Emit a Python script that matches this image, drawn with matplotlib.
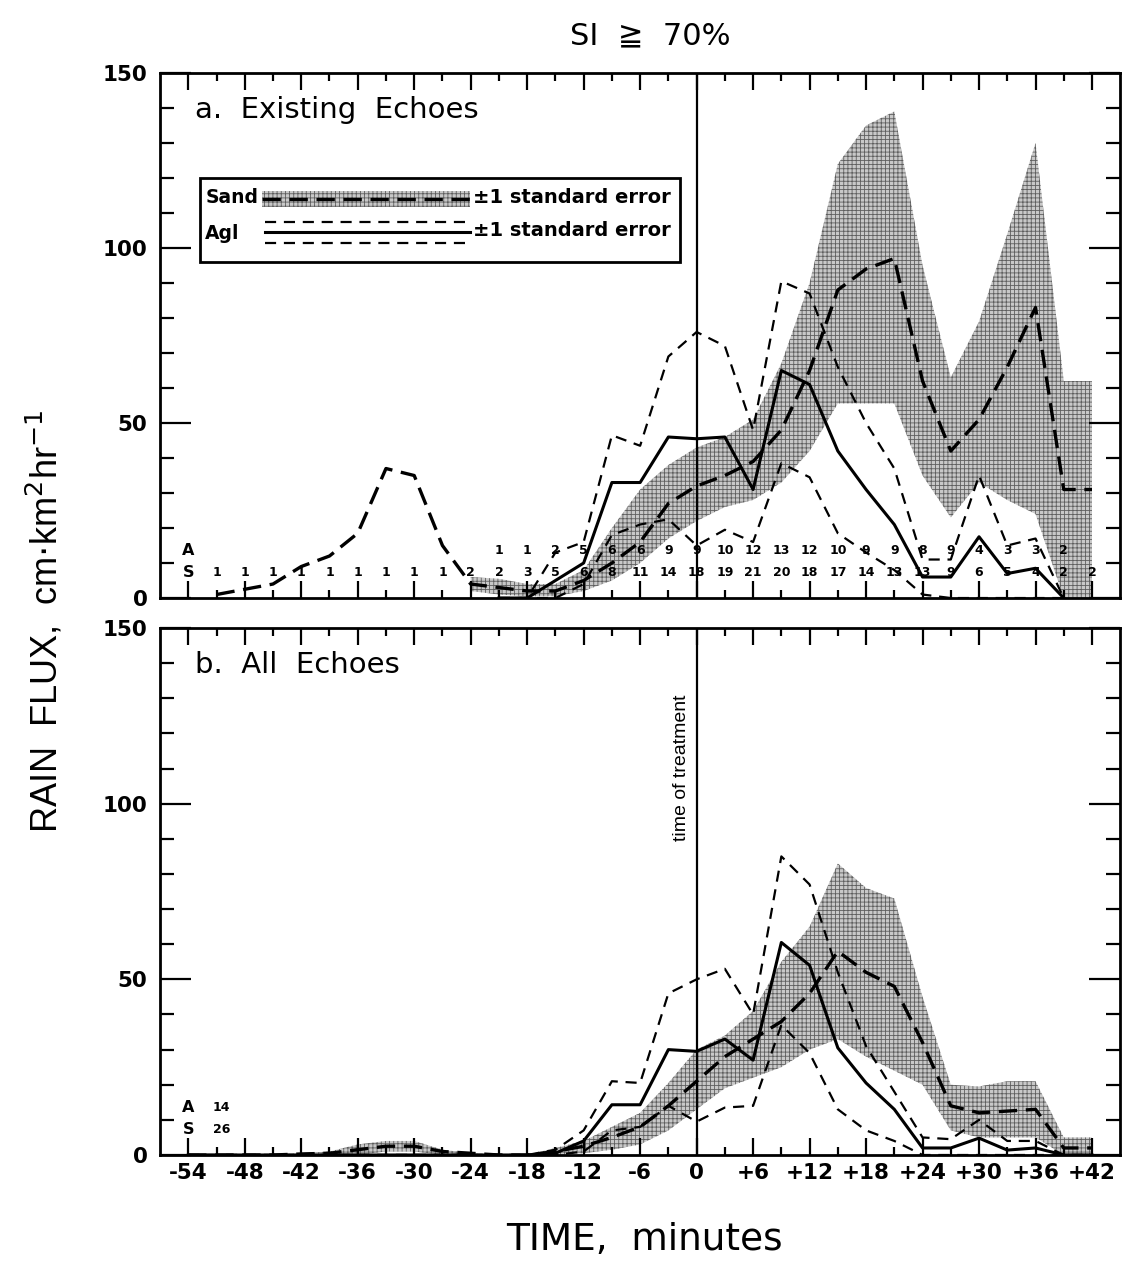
import matplotlib
matplotlib.use('Agg')
import matplotlib.pyplot as plt
import matplotlib.transforms as mtransforms
from matplotlib.patches import Rectangle
from matplotlib.lines import Line2D
import numpy as np

plt.rcParams['font.family'] = ['DejaVu Sans']
plt.rcParams['hatch.linewidth'] = 0.6

# time grid, minutes relative to treatment
t_all = np.arange(-54, 43, 3)

# ---- panel a: existing echoes ----
sand_a_t = t_all[1:]          # -51 .. +42
sand_a_mean = [1, 2.5, 4, 9, 12, 18.5, 37, 35, 15, 4, 3, 2,
               2, 5, 10, 16, 27, 32, 35, 39, 48, 65, 88, 94, 97, 62, 42, 51, 66, 83, 31, 31]
band_a_t = t_all[10:]         # -24 .. +42
sand_a_hi = [6, 5.5, 4, 4, 8, 20, 31, 38, 43, 46, 51, 67, 90, 124, 135, 139, 95, 63, 79, 104, 130, 62, 62]
sand_a_lo = [2, 1, 0.5, 0.5, 2, 5, 10, 17, 22, 26, 28, 33, 42, 55.6, 55.6, 55.6, 35, 23, 33, 28, 24, 0, 0]

agl_a_t = t_all[11:32]        # -21 .. +39
agl_a_mean = [0, 0, 5, 10, 33, 33, 46, 45.5, 46, 31, 65, 61, 42, 31, 21, 6, 6, 17.5, 7, 8.5, 0]
agl_a_hi = [0, 0, 13, 16, 46.5, 43.5, 69, 76, 72, 48, 90.5, 87, 66, 50, 37, 11, 11, 35, 15, 17, 0]
agl_a_lo = [0, 0, 0, 4, 18, 21, 22.5, 15, 19.5, 16, 38.5, 34.5, 18.5, 13, 8, 1, 0, 0, 0, 0, 0]

count_a_t = t_all[11:32]
count_a = [1, 1, 2, 5, 6, 6, 9, 9, 10, 12, 13, 12, 10, 9, 9, 8, 9, 4, 3, 3, 2]
count_s_t = t_all[1:]
count_s = [1, 1, 1, 1, 1, 1, 1, 1, 1, 2, 2, 3, 5, 6, 8, 11, 14, 18, 19, 21, 20, 18,
           17, 14, 13, 13, 9, 6, 5, 4, 2, 2]

# ---- panel b: all echoes ----
sand_b_mean = [0, 0, 0, 0, 0.3, 0.5, 1.5, 2.5, 2.5, 1, 0.5, 0, 0,
               1, 2.5, 5, 8, 14, 21, 28, 33, 38, 46, 58, 52, 48, 32, 14, 12, 12.5, 13, 2, 2]
sand_b_hi = [0, 0, 0, 0, 0.5, 1, 3, 4, 4, 1.5, 0.5, 0, 0,
             2, 4, 8, 12, 20.5, 30, 34, 41, 55, 65, 83, 76, 73, 45, 20, 19.5, 21, 21, 5, 5]
sand_b_lo = [0, 0, 0, 0, 0, 0, 0, 1, 1, 0, 0, 0, 0,
             0, 0.5, 1.5, 3, 7, 13, 19, 22, 25, 30, 33, 28, 24, 20, 7, 5, 5, 5, 0, 0]

agl_b_mean = [0, 0, 0, 0, 0, 0, 0, 0, 0, 0, 0, 0, 0,
              0.5, 4, 14.3, 14.3, 30, 29.5, 33, 27, 60.5, 54, 30.5, 20.5, 13, 2, 2, 4.8, 1.4, 2, 0, 0]
agl_b_hi = [0, 0, 0, 0, 0, 0, 0, 0, 0, 0, 0, 0, 0,
            1.5, 7, 21, 20.5, 46, 50, 53, 40, 85, 77, 52, 31, 18, 5, 4.5, 10, 4, 4, 0, 0]
agl_b_lo = [0, 0, 0, 0, 0, 0, 0, 0, 0, 0, 0, 0, 0,
            0, 1, 7, 8, 14, 9.5, 13.5, 14, 37, 29, 13, 7, 4, 0, 0, 0, 0, 0, 0, 0]

n_agl_b = 14
n_sand_b = 26

x_labels = ['-54', '-48', '-42', '-36', '-30', '-24', '-18', '-12', '-6', '0',
            '+6', '+12', '+18', '+24', '+30', '+36', '+42']

SHADE = dict(facecolor='#c8c8c8', edgecolor='#5e5e5e', hatch='++++', linewidth=0)
AGL_DASH = dict(color='k', lw=1.6, ls=(0, (5, 3.5)))
SAND_DASH = dict(color='k', lw=2.4, ls=(0, (5.5, 2.6)))


def setup(ax):
    ax.set_xlim(-57, 45)
    ax.set_ylim(0, 150)
    ax.set_xticks(np.arange(-54, 43, 6))
    ax.set_xticks(np.arange(-51, 42, 6), minor=True)
    ax.set_yticks([0, 50, 100, 150])
    ax.set_yticks(np.arange(10, 150, 10), minor=True)
    ax.tick_params(axis='both', which='both', direction='in', top=True, right=True,
                   width=1.6, labelsize=15.5)
    ax.tick_params(axis='y', which='major', length=22, pad=9)
    ax.tick_params(axis='y', which='minor', length=10)
    ax.tick_params(axis='x', which='major', length=12, pad=6)
    ax.tick_params(axis='x', which='minor', length=6)
    for lab in ax.get_yticklabels():
        lab.set_fontweight('bold')
    for s in ax.spines.values():
        s.set_linewidth(2)
    ax.axvline(0, color='k', lw=1.6, zorder=5)


def draw(ax, st, sm, bt, blo, bhi, at, am, alo, ahi):
    ax.fill_between(bt, blo, bhi, zorder=1, **SHADE)
    ax.plot(st, sm, zorder=3, **SAND_DASH)
    ax.plot(at, ahi, zorder=4, **AGL_DASH)
    ax.plot(at, alo, zorder=4, **AGL_DASH)
    ax.plot(at, am, color='k', lw=2.2, zorder=4)


fig = plt.figure(figsize=(11.27, 12.67), dpi=100)
ax1 = fig.add_axes([0.142, 0.528, 0.852, 0.4144])
ax2 = fig.add_axes([0.142, 0.0884, 0.852, 0.4159])

for ax in (ax1, ax2):
    setup(ax)

draw(ax1, sand_a_t, sand_a_mean, band_a_t, sand_a_lo, sand_a_hi,
     agl_a_t, agl_a_mean, agl_a_lo, agl_a_hi)
draw(ax2, t_all, sand_b_mean, t_all, sand_b_lo, sand_b_hi,
     t_all, agl_b_mean, agl_b_lo, agl_b_hi)

ax1.set_xticklabels([])
ax2.set_xticklabels(x_labels, fontweight='bold')

# sample counts
tr1 = mtransforms.blended_transform_factory(ax1.transData, ax1.transAxes)
ax1.text(-54, 0.09, 'A', transform=tr1, ha='center', va='center', fontsize=11.5, fontweight='bold')
ax1.text(-54, 0.048, 'S', transform=tr1, ha='center', va='center', fontsize=11.5, fontweight='bold')
for x, n in zip(count_a_t, count_a):
    ax1.text(x, 0.09, str(n), transform=tr1, ha='center', va='center', fontsize=9, fontweight='bold')
for x, n in zip(count_s_t, count_s):
    ax1.text(x, 0.048, str(n), transform=tr1, ha='center', va='center', fontsize=9, fontweight='bold')

tr2 = mtransforms.blended_transform_factory(ax2.transData, ax2.transAxes)
ax2.text(-54, 0.09, 'A', transform=tr2, ha='center', va='center', fontsize=11.5, fontweight='bold')
ax2.text(-54, 0.048, 'S', transform=tr2, ha='center', va='center', fontsize=11.5, fontweight='bold')
ax2.text(-50.5, 0.09, str(n_agl_b), transform=tr2, ha='center', va='center', fontsize=9, fontweight='bold')
ax2.text(-50.5, 0.048, str(n_sand_b), transform=tr2, ha='center', va='center', fontsize=9, fontweight='bold')

# panel titles
ax1.text(0.036, 0.93, 'a.  Existing  Echoes', transform=ax1.transAxes, fontsize=21, va='center')
ax2.text(0.036, 0.93, 'b.  All  Echoes', transform=ax2.transAxes, fontsize=21, va='center')
ax2.text(-0.7, 131, 'time of treatment', rotation=90, ha='right', va='top', fontsize=14,
         family=['Liberation Sans', 'DejaVu Sans'])

# legend box
T = ax1.transAxes
ax1.add_patch(Rectangle((0.042, 0.64), 0.5, 0.16, transform=T, fill=False, lw=2, zorder=6))
ax1.text(0.047, 0.762, 'Sand', transform=T, fontsize=13.5, fontweight='bold', va='center', zorder=7)
ax1.add_patch(Rectangle((0.106, 0.745), 0.217, 0.031, transform=T, zorder=6, **SHADE))
ax1.add_line(Line2D([0.106, 0.323], [0.760, 0.760], transform=T, zorder=7, **SAND_DASH))
ax1.text(0.326, 0.762, '±1 standard error', transform=T, fontsize=14, fontweight='bold', va='center', zorder=7)
ax1.text(0.047, 0.695, 'Agl', transform=T, fontsize=13.5, fontweight='bold', va='center', zorder=7)
ax1.add_line(Line2D([0.109, 0.323], [0.716, 0.716], transform=T, zorder=7, **AGL_DASH))
ax1.add_line(Line2D([0.109, 0.323], [0.697, 0.697], transform=T, color='k', lw=2.2, zorder=7))
ax1.add_line(Line2D([0.109, 0.323], [0.676, 0.676], transform=T, zorder=7, **AGL_DASH))
ax1.text(0.326, 0.700, '±1 standard error', transform=T, fontsize=14, fontweight='bold', va='center', zorder=7)

fig.text(0.577, 0.972, 'SI  ≧  70%', ha='center', va='center', fontsize=22)
fig.text(0.040, 0.51, 'RAIN  FLUX,  cm$\\cdot$km$^2$hr$^{-1}$', rotation=90, ha='center', va='center',
         fontsize=26, family=['Liberation Sans', 'DejaVu Sans'])
fig.text(0.572, 0.021, 'TIME,  minutes', ha='center', va='center', fontsize=27)

fig.savefig('out.png', dpi=100)
